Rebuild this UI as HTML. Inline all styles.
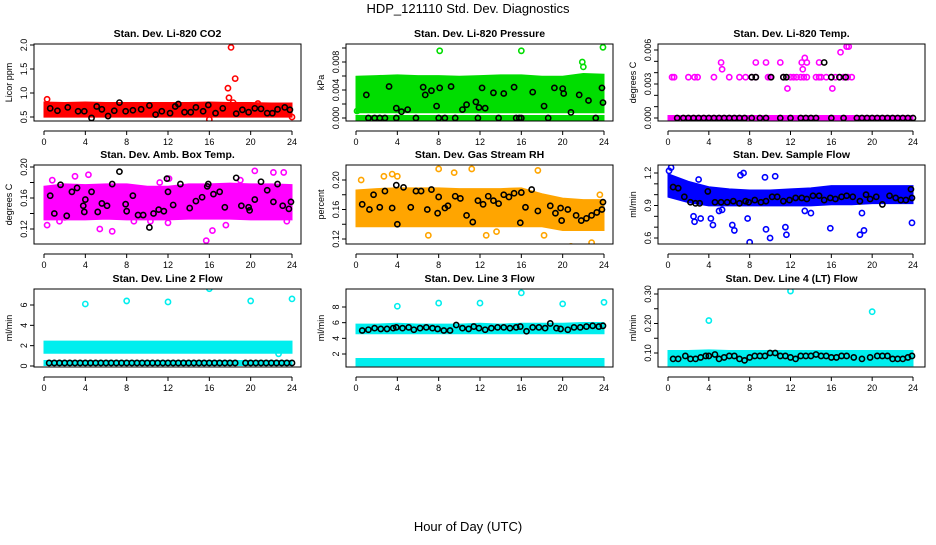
<!DOCTYPE html>
<html><head><meta charset="utf-8"><style>
body{margin:0;background:#fff;}
svg text{font-family:"Liberation Sans",Arial,sans-serif;}
</style></head><body>
<svg id="chart" width="936" height="540" viewBox="0 0 936 540" xmlns="http://www.w3.org/2000/svg">
<text x="468" y="13" text-anchor="middle" font-size="13">HDP_121110  Std. Dev. Diagnostics</text>
<text x="468" y="531" text-anchor="middle" font-size="13">Hour of Day (UTC)</text>
</svg>
<script>
// ---- data arrays ----
const bandX = [0,2,4,6,8,10,12,14,16,18,20,22,24];

// P1 CO2
const co2Lo = [0.55,0.55,0.55,0.55,0.55,0.55,0.55,0.55,0.55,0.55,0.55,0.55,0.55];
const co2Hi = [0.76,0.75,0.76,0.75,0.75,0.75,0.75,0.75,0.76,0.75,0.75,0.74,0.74];
const co2OutX = [0.3,17.8,17.9,18.1,18.5,18.3,16.0,20.7,24];
const co2OutY = [0.87,1.1,0.9,1.95,1.3,0.8,0.45,0.78,0.5];
const co2BlkX = [0.6,1.3,2.3,3.3,3.9,4.6,5.1,5.6,6.2,6.8,7.3,7.9,8.6,9.4,10.2,10.8,11.4,12.2,12.7,13.0,13.6,14.2,14.7,15.4,15.9,16.6,17.3,18.6,19.2,19.8,20.4,21.0,21.6,22.1,22.6,23.3,23.8];
const co2BlkY = [0.68,0.63,0.7,0.62,0.62,0.48,0.72,0.66,0.52,0.63,0.8,0.62,0.64,0.66,0.74,0.55,0.62,0.58,0.72,0.77,0.6,0.6,0.7,0.62,0.75,0.58,0.68,0.57,0.65,0.6,0.68,0.67,0.58,0.58,0.66,0.7,0.65];

// P2 Pressure
const prLo = [0.0011,0.0011,0.0011,0.0011,0.0011,0.0011,0.0011,0.0011,0.0011,0.0011,0.0011,0.0011,0.0011];
const prHi = [0.0056,0.0057,0.0058,0.0057,0.0057,0.0056,0.0057,0.0058,0.0058,0.0056,0.0056,0.0060,0.0059];
const prZeroLo = [0,0,0,0,0,0,0,0,0,0,0,0,0];
const prZeroHi = [0,0,0,0,0,0,0,0,0,0,0,0,0];
const prOutX = [8.1,16,21.9,22.0,23.9,0.1];
const prOutY = [0.0096,0.0096,0.0080,0.0073,0.0101,0.0010];
const prBlkX = [1.2,1.8,2.3,2.8,3.9,5.8,8,8.6,9.6,11.8,13.8,15.5,15.8,16,18.6,23.2,1.0,3.2,3.9,4.4,5.0,6.5,6.7,7.3,7.8,8.1,9.2,10.3,10.7,11.6,11.9,12.2,12.5,13.3,14.3,15.3,17.1,18.2,19.2,20,20.1,20.8,21.6,22.5,23.8,23.9];
const prBlkY = [0,0,0,0,0,0,0,0,0,0,0,0,0,0,0,0,0.0033,0.0045,0.0014,0.0009,0.0012,0.0044,0.0033,0.0039,0.0017,0.0043,0.0045,0.0012,0.0019,0.0023,0.0015,0.0043,0.0014,0.0036,0.0035,0.0044,0.0037,0.0017,0.0043,0.0042,0.0035,0.0008,0.0033,0.0025,0.0043,0.0022];

// P3 Temp
const tpLo = [0,0,0,0,0,0,0,0,0,0,0,0,0];
const tpHi = [0,0,0,0,0,0,0,0,0,0,0,0,0];
const tpOutX = [0.4,0.6,2,2.6,2.9,4.5,6,7,7.6,8.2,8.6,9.8,10,11.3,12,12.3,12.6,13,13.3,13.6,14.5,14.8,15,15.5,16,16.4,16.8,17.2,17.6,18,5.2,5.3,8.6,9.6,11.0,13.2,13.4,13.6,14.8,11.7,16.1,16.9,17.5,17.7,13.1];
const tpOutY = [0.0036,0.0036,0.0036,0.0036,0.0036,0.0036,0.0036,0.0036,0.0036,0.0036,0.0036,0.0036,0.0036,0.0036,0.0036,0.0036,0.0036,0.0036,0.0036,0.0036,0.0036,0.0036,0.0036,0.0036,0.0036,0.0036,0.0036,0.0036,0.0036,0.0036,0.0049,0.0043,0.0049,0.0049,0.0049,0.0043,0.0053,0.0049,0.0049,0.0026,0.0026,0.0058,0.0063,0.0063,0.0049];
const tpBlkX = [0.9,1.5,2,2.5,3,3.5,4,4.5,5,5.5,6,6.5,7,7.5,8.2,9,9.6,11,12,13,13.5,14,14.5,16,17.2,18.5,19,19.5,20,20.5,21,21.5,22,22.5,23,23.5,24,8.2,8.6,10.1,11.3,11.6,16,16.8,17.4,15.3];
const tpBlkY = [0,0,0,0,0,0,0,0,0,0,0,0,0,0,0,0,0,0,0,0,0,0,0,0,0,0,0,0,0,0,0,0,0,0,0,0,0,0.0036,0.0036,0.0036,0.0036,0.0036,0.0036,0.0036,0.0036,0.0049];

// P4 Amb box temp
const amLo = [0.135,0.135,0.135,0.136,0.135,0.135,0.135,0.136,0.136,0.136,0.135,0.135,0.135];
const amHi = [0.172,0.175,0.174,0.175,0.175,0.172,0.172,0.175,0.175,0.176,0.175,0.175,0.174];
const amOutX = [0.3,0.8,1.5,3.0,4.3,6.6,8.7,10.3,11.2,12.1,15.7,16.3,17.6,19.0,20.4,22.2,23.2,23.5,5.4,2.0,12.0];
const amOutY = [0.125,0.183,0.13,0.188,0.19,0.117,0.13,0.13,0.18,0.185,0.105,0.118,0.125,0.183,0.195,0.193,0.193,0.13,0.12,0.135,0.128];
const amBlkX = [0.6,1.0,1.6,2.2,2.7,3.2,3.8,3.9,4.0,4.6,5.2,5.6,6.1,6.6,7.3,7.9,8.0,8.6,9.1,9.6,10.2,10.6,11.1,11.6,11.9,12.0,12.5,13.2,14.1,14.7,15.3,15.8,15.9,16.4,17.0,17.5,18.6,19.1,19.8,19.9,20.4,21.0,21.6,22.2,22.6,23.1,23.7,23.9];
const amBlkY = [0.163,0.14,0.177,0.137,0.168,0.173,0.15,0.142,0.158,0.168,0.142,0.153,0.15,0.178,0.194,0.152,0.143,0.163,0.138,0.138,0.122,0.14,0.145,0.143,0.185,0.168,0.151,0.178,0.147,0.156,0.161,0.175,0.178,0.165,0.168,0.148,0.186,0.15,0.148,0.144,0.158,0.181,0.17,0.155,0.178,0.15,0.146,0.155];

// P5 Gas stream RH
const rhLo = [0.14,0.14,0.14,0.14,0.14,0.14,0.14,0.14,0.14,0.14,0.135,0.135,0.135];
const rhHi = [0.183,0.185,0.186,0.186,0.186,0.185,0.185,0.185,0.186,0.178,0.172,0.17,0.17];
const rhOutX = [0.5,2.7,3.5,4.0,7.0,8.0,9.5,11.2,12.6,13.6,17.6,18.2,20.8,21.0,22.8,23.6];
const rhOutY = [0.2,0.205,0.208,0.205,0.125,0.215,0.21,0.215,0.125,0.13,0.213,0.125,0.11,0.108,0.115,0.18];
const rhBlkX = [0.6,1.3,1.7,2.3,2.8,3.5,3.9,4.0,4.6,5.3,5.8,6.3,6.9,7.3,7.9,8.0,8.6,8.9,9.6,10.1,10.7,11.3,11.8,12.3,12.8,13.3,13.8,14.3,14.8,15.3,15.9,16.0,16.4,17.0,17.6,18.8,19.3,19.8,19.9,20.5,21.3,21.8,22.3,22.8,23.3,23.8,23.9];
const rhBlkY = [0.167,0.16,0.18,0.163,0.185,0.162,0.193,0.14,0.19,0.163,0.185,0.185,0.16,0.187,0.155,0.177,0.162,0.165,0.178,0.175,0.152,0.143,0.172,0.167,0.178,0.172,0.168,0.18,0.177,0.182,0.142,0.183,0.163,0.187,0.158,0.165,0.155,0.162,0.145,0.16,0.152,0.145,0.148,0.152,0.156,0.16,0.17];

// P6 Sample flow
const sfLo = [1.0,0.95,0.92,0.92,0.92,0.92,0.92,0.92,0.93,0.93,0.94,0.94,0.94];
const sfHi = [1.17,1.1,1.05,1.03,1.02,1.02,1.03,1.04,1.06,1.06,1.06,1.06,1.06];
const sfOutX = [0.1,0.3,2.5,2.6,3.2,4.2,4.4,6.3,6.5,7.1,7.4,7.8,8.0,9.6,10.0,10.5,11.5,11.6,13.4,14.0,15.9,18.8,19.0,19.2,23.9,5.0,5.3,9.5,3.0];
const sfOutY = [1.22,1.25,0.8,0.75,0.78,0.78,0.72,0.72,0.67,1.18,1.2,0.78,0.56,0.68,0.6,1.17,0.7,0.63,0.85,0.83,0.69,0.63,0.83,0.67,0.74,0.85,0.86,1.16,1.14];
const sfBlkX = [0.5,1,1.6,2.2,2.7,3.1,3.9,4.6,5.2,5.8,6.4,7.0,7.6,7.9,8.5,9.1,9.6,10.2,10.7,11.3,11.9,12.5,13.1,13.6,14.2,14.8,15.3,15.9,16.4,17.0,17.5,18.1,18.8,19.4,19.8,20.4,21.0,21.7,22.3,22.8,23.3,23.8,23.9];
const sfBlkY = [1.07,1.06,0.98,0.93,0.92,0.92,1.03,0.93,0.93,0.93,0.94,0.92,0.94,0.93,0.95,0.93,0.94,0.98,0.98,0.94,0.95,0.97,0.97,0.96,0.99,0.99,0.95,0.97,0.96,0.98,0.99,0.98,0.94,1.0,0.96,0.98,0.91,0.99,0.97,0.95,0.95,1.05,0.97];

// P7 Line 2 flow
const l2Lo = [1.5,1.5,1.5,1.5,1.5,1.5,1.5,1.5,1.5,1.5,1.5,1.5,1.5];
const l2Hi = [2.2,2.2,2.2,2.2,2.2,2.2,2.2,2.2,2.2,2.2,2.2,2.2,2.2];
const l2BaseLo = [0.3,0.3,0.3,0.3,0.3,0.3,0.3,0.3,0.3,0.3,0.3,0.3,0.3];
const l2BaseHi = [0.3,0.3,0.3,0.3,0.3,0.3,0.3,0.3,0.3,0.3,0.3,0.3,0.3];
const l2OutX = [4,8,12,16,20,24,22.7];
const l2OutY = [6.1,6.4,6.3,7.6,6.4,6.6,1.2];
const l2BlkX = [0.5,1,1.5,2,2.5,3,3.5,4,4.5,5,5.5,6,6.5,7,7.5,8,8.5,9,9.5,10,10.5,11,11.5,12,12.5,13,13.5,14,14.5,15,15.5,16,16.5,17,17.5,18,18.5,19.5,20,20.5,21,21.5,22,22.5,23,23.5,24];
const l2BlkY = [0.3,0.3,0.3,0.3,0.3,0.3,0.3,0.3,0.3,0.3,0.3,0.3,0.3,0.3,0.3,0.3,0.3,0.3,0.3,0.3,0.3,0.3,0.3,0.3,0.3,0.3,0.3,0.3,0.3,0.3,0.3,0.3,0.3,0.3,0.3,0.3,0.3,0.3,0.3,0.3,0.3,0.3,0.3,0.3,0.3,0.3,0.3];

// P8 Line 3 flow
const l3Lo = [4.9,4.9,4.9,4.9,4.9,4.9,4.9,4.9,4.9,4.9,4.9,4.9,4.9];
const l3Hi = [5.5,5.5,5.6,5.5,5.5,5.5,5.6,5.5,5.6,5.6,5.6,5.7,5.7];
const l3BaseLo = [0.8,0.8,0.8,0.8,0.8,0.8,0.8,0.8,0.8,0.8,0.8,0.8,0.8];
const l3BaseHi = [1.1,1.1,1.1,1.1,1.1,1.1,1.1,1.1,1.1,1.1,1.1,1.1,1.1];
const l3OutX = [4,8,12,16,20,24];
const l3OutY = [8.1,8.5,8.5,9.8,8.4,8.6];
const l3BlkX = [0.6,1.2,1.8,2.4,3,3.6,3.9,4.5,5.1,5.6,6.2,6.8,7.4,7.9,8.5,9.1,9.7,10.3,10.9,11.4,11.9,12.5,13.1,13.7,14.3,14.9,15.5,15.9,16.5,17.1,17.7,18.3,18.8,19.4,19.8,20.5,21.1,21.7,22.3,22.9,23.5,23.9];
const l3BlkY = [5.0,5.1,5.3,5.2,5.2,5.3,5.4,5.3,5.4,5.1,5.3,5.4,5.3,5.2,5.0,5.0,5.7,5.3,5.2,5.5,5.3,5.1,5.3,5.4,5.4,5.3,5.4,5.5,4.9,5.4,5.4,5.3,5.9,5.3,5.2,5.1,5.4,5.4,5.5,5.6,5.5,5.6];

// P9 Line 4 flow
const l4Lo = [0.065,0.065,0.065,0.065,0.065,0.065,0.065,0.065,0.065,0.065,0.065,0.065,0.065];
const l4Hi = [0.1,0.1,0.102,0.1,0.1,0.1,0.1,0.1,0.1,0.1,0.1,0.1,0.1];
const l4OutX = [4,12,20];
const l4OutY = [0.21,0.31,0.24];
const l4BlkX = [0.5,1,1.7,2.2,2.7,3.2,3.7,4,4.6,5,5.5,6,6.5,7,7.5,8,8.5,9,9.5,10,10.5,11,11.5,12,12.5,13,13.5,14,14.5,15,15.5,16,16.5,17,17.5,18.2,19,19.8,20.5,21,21.5,22,22.5,23,23.5,23.9];
const l4BlkY = [0.08,0.08,0.09,0.08,0.08,0.085,0.09,0.09,0.095,0.08,0.085,0.09,0.09,0.08,0.075,0.085,0.09,0.09,0.09,0.1,0.1,0.09,0.09,0.085,0.08,0.09,0.09,0.09,0.095,0.09,0.09,0.085,0.085,0.09,0.09,0.085,0.08,0.085,0.09,0.09,0.09,0.08,0.08,0.08,0.085,0.09];

const xTicks = [0,4,8,12,16,20,24];

const panels = [
 {name:'co2',title:'Stan. Dev. Li-820 CO2',ylab:'Licor ppm',col:0,row:0,color:'#ff0000',map:[0.5,117,2.0,45],ticks:[0.5,1.0,1.5,2.0],fmt:v=>v.toFixed(1),
  bands:[[co2Lo,co2Hi]],outX:co2OutX,outY:co2OutY,blkX:co2BlkX,blkY:co2BlkY},
 {name:'pressure',title:'Stan. Dev. Li-820 Pressure',ylab:'kPa',col:1,row:0,color:'#00dd00',map:[0,118,0.008,62],ticks:[0,0.002,0.004,0.006,0.008,0.010],labels:{0:'0.000',0.004:'0.004',0.008:'0.008'},
  bands:[[prLo,prHi],[prZeroLo,prZeroHi]],outX:prOutX,outY:prOutY,blkX:prBlkX,blkY:prBlkY},
 {name:'temp',title:'Stan. Dev. Li-820 Temp.',ylab:'degrees C',col:2,row:0,color:'#ff00ff',map:[0,118,0.006,50],ticks:[0,0.001,0.002,0.003,0.004,0.005,0.006],labels:{0:'0.000',0.003:'0.003',0.006:'0.006'},
  bands:[[tpLo,tpHi]],outX:tpOutX,outY:tpOutY,blkX:tpBlkX,blkY:tpBlkY},
 {name:'amb-box-temp',title:'Stan. Dev. Amb. Box Temp.',ylab:'degrees C',col:0,row:1,color:'#ff00ff',map:[0.12,229,0.20,167],ticks:[0.12,0.14,0.16,0.18,0.20],labels:{0.12:'0.12',0.16:'0.16',0.2:'0.20'},
  bands:[[amLo,amHi]],outX:amOutX,outY:amOutY,blkX:amBlkX,blkY:amBlkY},
 {name:'gas-stream-rh',title:'Stan. Dev. Gas Stream RH',ylab:'percent',col:1,row:1,color:'#ffa500',map:[0.12,239,0.20,180],ticks:[0.12,0.14,0.16,0.18,0.20],labels:{0.12:'0.12',0.16:'0.16',0.2:'0.20'},
  bands:[[rhLo,rhHi]],outX:rhOutX,outY:rhOutY,blkX:rhBlkX,blkY:rhBlkY},
 {name:'sample-flow',title:'Stan. Dev. Sample Flow',ylab:'ml/min',col:2,row:1,color:'#0000ff',map:[0.6,238,1.2,173],ticks:[0.6,0.7,0.8,0.9,1.0,1.1,1.2],labels:{0.6:'0.6',0.9:'0.9',1.2:'1.2'},
  bands:[[sfLo,sfHi]],outX:sfOutX,outY:sfOutY,blkX:sfBlkX,blkY:sfBlkY},
 {name:'line2-flow',title:'Stan. Dev. Line 2 Flow',ylab:'ml/min',col:0,row:2,color:'#00eeee',map:[0,366,6,305],ticks:[0,2,4,6],fmt:v=>String(v),
  bands:[[l2Lo,l2Hi],[l2BaseLo,l2BaseHi]],outX:l2OutX,outY:l2OutY,blkX:l2BlkX,blkY:l2BlkY},
 {name:'line3-flow',title:'Stan. Dev. Line 3 Flow',ylab:'ml/min',col:1,row:2,color:'#00eeee',map:[2,354,8,307],ticks:[2,4,6,8],fmt:v=>String(v),
  bands:[[l3Lo,l3Hi],[l3BaseLo,l3BaseHi]],outX:l3OutX,outY:l3OutY,blkX:l3BlkX,blkY:l3BlkY},
 {name:'line4-flow',title:'Stan. Dev. Line 4 (LT) Flow',ylab:'ml/min',col:2,row:2,color:'#00eeee',map:[0.10,353,0.30,294],ticks:[0.10,0.15,0.20,0.25,0.30],labels:{0.1:'0.10',0.2:'0.20',0.3:'0.30'},
  bands:[[l4Lo,l4Hi]],outX:l4OutX,outY:l4OutY,blkX:l4BlkX,blkY:l4BlkY}
];

const NS='http://www.w3.org/2000/svg';
const svg=document.getElementById('chart');
const colX=[[34,301,44,292],[346,613,356,604],[658,925,668,913]];
const rowY=[[44,121],[165,244],[289,367]];
function mk(tag,attrs,parent){const e=document.createElementNS(NS,tag);for(const k in attrs)e.setAttribute(k,attrs[k]);(parent||svg).appendChild(e);return e;}

panels.forEach(p=>{
  const [bl,br,x0,x24]=colX[p.col];const [bt,bb]=rowY[p.row];
  const sx=h=>x0+(x24-x0)*h/24;
  const sy=v=>p.map[1]+(v-p.map[0])*(p.map[3]-p.map[1])/(p.map[2]-p.map[0]);
  const g=mk('g',{});
  
  
  const clipId='clip-'+p.name;
  const cp=mk('clipPath',{id:clipId},g);mk('rect',{x:bl,y:bt,width:br-bl,height:bb-bt},cp);
  const plot=mk('g',{'clip-path':'url(#'+clipId+')'},g);
  p.bands.forEach(b=>{
    const lo=b[0],hi=b[1];let pts=[];
    for(let i=0;i<bandX.length;i++)pts.push(sx(bandX[i])+','+(Math.min(sy(hi[i]),sy(lo[i]))-2.5));
    for(let i=bandX.length-1;i>=0;i--)pts.push(sx(bandX[i])+','+(Math.max(sy(lo[i]),sy(hi[i]))+2.5));
    const poly=mk('polygon',{points:pts.join(' '),fill:p.color,stroke:p.color,'stroke-width':1},plot);
    
    
  });
  p.outX.forEach((h,i)=>{
    const c=mk('circle',{cx:sx(h),cy:sy(p.outY[i]),r:2.6,fill:'none',stroke:p.color,'stroke-width':1.6},plot);
    
    
  });
  p.blkX.forEach((h,i)=>{
    const c=mk('circle',{cx:sx(h),cy:sy(p.blkY[i]),r:2.6,fill:'none',stroke:'#000','stroke-width':1.6},plot);
    
    
  });
  const box=mk('rect',{x:bl,y:bt,width:br-bl,height:bb-bt,fill:'none',stroke:'#000','stroke-width':1},g);
  
  
  const t=mk('text',{x:(bl+br)/2,y:bt-7,'text-anchor':'middle','font-size':10.5,'font-weight':'bold'},g);
  t.textContent=p.title;
  
  
  const ay=bb+10;
  mk('line',{x1:sx(0),x2:sx(24),y1:ay,y2:ay,stroke:'#000'},g);
  xTicks.forEach(h=>{
    mk('line',{x1:sx(h),x2:sx(h),y1:ay,y2:ay+4,stroke:'#000'},g);
    const tx=mk('text',{x:sx(h),y:ay+14,'text-anchor':'middle','font-size':9},g);
    tx.textContent=String(h);
    
    
  });
  const tv=p.ticks;
  const vis=tv.filter(v=>{const y=sy(v);return y>=bt-3&&y<=bb+3;});
  mk('line',{x1:bl,x2:bl,y1:sy(vis[0]),y2:sy(vis[vis.length-1]),stroke:'#000'},g);
  vis.forEach(v=>{
    const y=sy(v);
    mk('line',{x1:bl-4,x2:bl,y1:y,y2:y,stroke:'#000'},g);
    let lab=null;
    if(p.fmt)lab=p.fmt(v);else{for(const k in p.labels){if(Math.abs(+k-v)<1e-9)lab=p.labels[k];}}
    if(lab!==null){
      const tx=mk('text',{x:bl-7,y:y,'text-anchor':'middle','font-size':9,transform:'rotate(-90 '+(bl-7)+' '+y+')'},g);
      tx.textContent=lab;
      
      
    }
  });
  const yl=mk('text',{x:bl-22,y:(bt+bb)/2,'text-anchor':'middle','font-size':9,transform:'rotate(-90 '+(bl-22)+' '+((bt+bb)/2)+')'},g);
  yl.textContent=p.ylab;
  
  
});
</script>
</body></html>
